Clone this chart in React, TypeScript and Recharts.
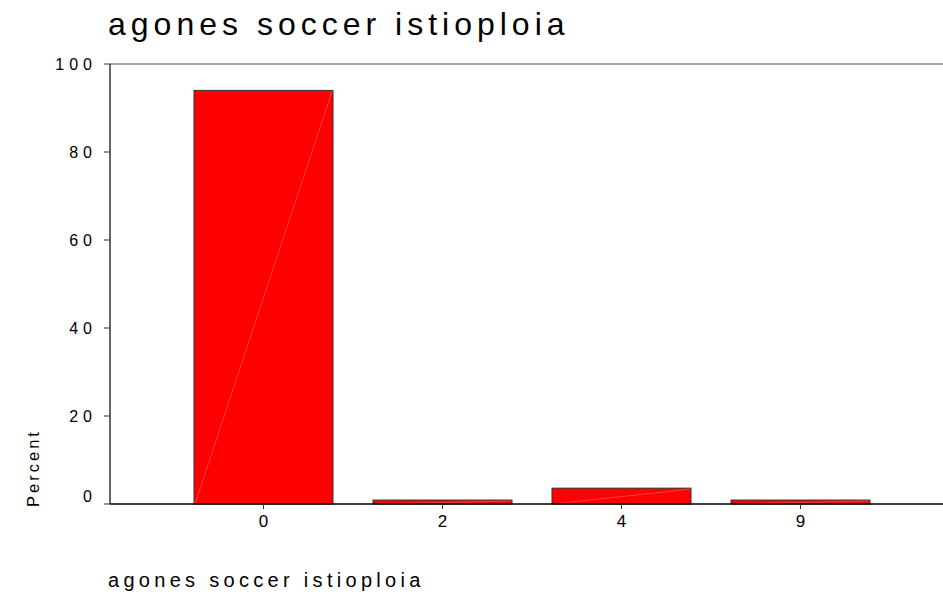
import { BarChart, Bar, XAxis, YAxis, ReferenceLine } from "recharts";

const categories = ["0", "2", "4", "9"];
const percents = [94.0, 0.9, 3.6, 0.9];
const yTicks = [0, 20, 40, 60, 80, 100];
const titleText = "agones soccer istioploia";
const xLabel = "agones soccer istioploia";
const yLabel = "Percent";

const FONT = '"Liberation Sans", Arial, sans-serif';

const data = categories.map((c, i) => ({ name: c, value: percents[i] }));

// bar with the faint diagonal seam the original renderer leaves inside each bar
function SeamBar(props: any) {
  const { x, y, width, height } = props;
  if (!height || height <= 0) return null;
  return (
    <g>
      <rect x={x} y={y} width={width} height={height} fill="#ff0000" stroke="#333" strokeWidth={1} />
      <line x1={x + 1} y1={y + height} x2={x + width - 1} y2={y + 1} stroke="#ff9999" strokeWidth={0.6} opacity={0.7} />
    </g>
  );
}

function YTick(props: any) {
  const { y, payload } = props;
  const lift = payload.value === 0 ? -8 : 0;
  return (
    <text x={97} y={y + lift} dy="0.35em" textAnchor="end" fontSize={16} letterSpacing={5} fill="#000" fontFamily={FONT}>
      {payload.value}
    </text>
  );
}

function XTick(props: any) {
  const { x, payload } = props;
  return (
    <text x={x} y={527} textAnchor="middle" fontSize={17} fill="#000" fontFamily={FONT}>
      {payload.value}
    </text>
  );
}

export default function App() {
  return (
    <div style={{ position: "absolute", left: 0, top: 0, width: 943, height: 596, background: "#fff" }}>
      <BarChart
        width={943}
        height={596}
        data={data}
        margin={{ top: 64, right: 0, bottom: 62, left: 0 }}
        barCategoryGap={20}
      >
        <YAxis
          width={110}
          domain={[0, 100]}
          ticks={yTicks}
          tickLine={{ stroke: "#333" }}
          tickSize={6}
          axisLine={{ stroke: "#333", strokeWidth: 1.5 }}
          tick={<YTick />}
          interval={0}
        />
        <XAxis
          dataKey="name"
          height={30}
          padding={{ left: 64, right: 53 }}
          tickLine={{ stroke: "#333" }}
          tickSize={5}
          axisLine={{ stroke: "#000", strokeWidth: 1.5 }}
          tick={<XTick />}
        />
        <ReferenceLine y={100} stroke="#888" strokeWidth={1.5} />
        <Bar dataKey="value" shape={<SeamBar />} isAnimationActive={false} />
      </BarChart>
      <svg width={943} height={596} style={{ position: "absolute", left: 0, top: 0, pointerEvents: "none" }}>
        <text x={108} y={35} fontSize={32} letterSpacing={5} fill="#000" fontFamily={FONT}>
          {titleText}
        </text>
        <text x={108} y={587} fontSize={20} letterSpacing={4.3} fill="#000" fontFamily={FONT}>
          {xLabel}
        </text>
        <text
          x={39}
          y={468}
          transform="rotate(-90, 39, 468)"
          textAnchor="middle"
          fontSize={16.5}
          letterSpacing={3}
          fill="#000"
          fontFamily={FONT}
        >
          {yLabel}
        </text>
      </svg>
    </div>
  );
}
